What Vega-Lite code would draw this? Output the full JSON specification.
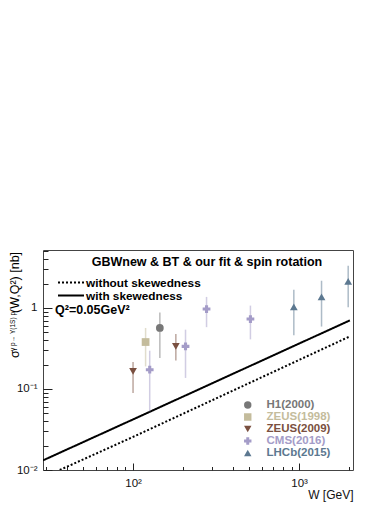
{
  "$schema": "https://vega.github.io/schema/vega-lite/v6.json",
  "autosize": {"type": "none"},
  "width": 310,
  "height": 220,
  "padding": {"left": 43, "top": 250, "right": 37, "bottom": 35},
  "background": "white",
  "config": {
    "font": "Liberation Sans",
    "view": {"stroke": "#444", "strokeWidth": 1},
    "axis": {"domain": false, "grid": false, "tickColor": "#222", "labelColor": "#111", "labelFont": "Liberation Sans", "labelFontSize": 11.5, "titleFont": "Liberation Sans", "titleFontWeight": "normal", "titleColor": "#111"},
    "legend": {"padding": 0, "titlePadding": 0}
  },
  "datasets": {
    "curves": [
      {"model": "without skewedness", "W": 36.2, "sigma": 0.01},
      {"model": "without skewedness", "W": 100, "sigma": 0.0256},
      {"model": "without skewedness", "W": 2020, "sigma": 0.446},
      {"model": "with skewedness", "W": 28.7, "sigma": 0.01315},
      {"model": "with skewedness", "W": 100, "sigma": 0.0421},
      {"model": "with skewedness", "W": 2020, "sigma": 0.703}
    ],
    "meas": [
      {"exp": "H1(2000)", "W": 145, "sigma": 0.567, "lo": 0.241, "hi": 0.88},
      {"exp": "ZEUS(1998)", "W": 119, "sigma": 0.38, "lo": 0.19, "hi": 0.567},
      {"exp": "ZEUS(2009)", "W": 100, "sigma": 0.165, "lo": 0.089, "hi": 0.215},
      {"exp": "ZEUS(2009)", "W": 181, "sigma": 0.336, "lo": 0.225, "hi": 0.478},
      {"exp": "CMS(2016)", "W": 126, "sigma": 0.173, "lo": 0.053, "hi": 0.297},
      {"exp": "CMS(2016)", "W": 207, "sigma": 0.336, "lo": 0.137, "hi": 0.54},
      {"exp": "CMS(2016)", "W": 277, "sigma": 0.97, "lo": 0.58, "hi": 1.37},
      {"exp": "CMS(2016)", "W": 509, "sigma": 0.73, "lo": 0.41, "hi": 1.07},
      {"exp": "LHCb(2015)", "W": 929, "sigma": 1.03, "lo": 0.46, "hi": 1.68},
      {"exp": "LHCb(2015)", "W": 1364, "sigma": 1.37, "lo": 0.59, "hi": 2.17},
      {"exp": "LHCb(2015)", "W": 1974, "sigma": 2.13, "lo": 1.02, "hi": 3.33}
    ]
  },
  "resolve": {"axis": {"x": "independent", "y": "independent"}},
  "layer": [
    {
      "data": {"name": "curves"},
      "mark": {"type": "line", "color": "black", "strokeWidth": 2, "clip": true},
      "encoding": {
        "x": {"field": "W", "type": "quantitative", "scale": {"type": "log", "domain": [28.7, 2110], "nice": false},
          "axis": {"orient": "bottom", "values": [100, 1000], "tickSize": -7, "labelPadding": 14, "labelExpr": "datum.value == 100 ? '10²' : '10³'", "title": "W [GeV]", "titleAnchor": "end", "titleAlign": "right", "titleFontSize": 12, "titlePadding": 1}},
        "y": {"field": "sigma", "type": "quantitative", "scale": {"type": "log", "domain": [0.01, 5.2], "nice": false},
          "axis": {"orient": "left", "values": [0.01, 0.1, 1], "tickSize": -9, "labelPadding": 15, "labelExpr": "datum.value == 0.01 ? '10⁻²' : datum.value == 0.1 ? '10⁻¹' : '1'", "title": null}},
        "strokeDash": {"field": "model", "type": "nominal", "sort": ["without skewedness", "with skewedness"],
          "scale": {"range": [[2, 2], [1, 0]]},
          "legend": {"title": null, "orient": "none", "legendX": 14, "legendY": 27, "symbolType": "stroke", "symbolSize": 676, "symbolStrokeWidth": 2, "symbolStrokeColor": "black", "clipHeight": 11, "rowPadding": -4, "labelOffset": 1, "labelFontSize": 11.8, "labelFontWeight": "bold", "labelColor": "black", "labelFont": "Liberation Sans"}}
      }
    },
    {
      "data": {"name": "meas"},
      "mark": {"type": "rule", "strokeWidth": 1.5, "opacity": 0.5},
      "encoding": {
        "x": {"field": "W", "type": "quantitative", "scale": {"type": "log", "domain": [28.7, 2110], "nice": false},
          "axis": {"orient": "bottom", "values": [30, 40, 50, 60, 70, 80, 90, 200, 300, 400, 500, 600, 700, 800, 900, 2000], "tickSize": -3.5, "labels": false, "title": null}},
        "y": {"field": "lo", "type": "quantitative", "scale": {"type": "log", "domain": [0.01, 5.2], "nice": false},
          "axis": {"orient": "left", "values": [0.02, 0.03, 0.04, 0.05, 0.06, 0.07, 0.08, 0.09, 0.2, 0.3, 0.4, 0.5, 0.6, 0.7, 0.8, 0.9, 2, 3, 4, 5], "tickSize": -5, "labels": false, "title": null}},
        "y2": {"field": "hi"},
        "stroke": {"field": "exp", "type": "nominal", "legend": null, "sort": ["H1(2000)", "ZEUS(1998)", "ZEUS(2009)", "CMS(2016)", "LHCb(2015)"],
          "scale": {"range": ["#777777", "#c4bc9c", "#7a5040", "#a49cc8", "#5c7890"]}}
      }
    },
    {
      "data": {"name": "meas"},
      "mark": {"type": "point", "filled": true, "opacity": 1, "size": 60},
      "encoding": {
        "x": {"field": "W", "type": "quantitative", "scale": {"type": "log", "domain": [28.7, 2110], "nice": false}, "axis": null},
        "y": {"field": "sigma", "type": "quantitative", "scale": {"type": "log", "domain": [0.01, 5.2], "nice": false}, "axis": null},
        "color": {"field": "exp", "type": "nominal", "sort": ["H1(2000)", "ZEUS(1998)", "ZEUS(2009)", "CMS(2016)", "LHCb(2015)"],
          "scale": {"range": ["#777777", "#c4bc9c", "#7a5040", "#a49cc8", "#5c7890"]},
          "legend": {"title": null, "orient": "none", "legendX": 199, "legendY": 149, "rowPadding": 0, "clipHeight": 12, "labelOffset": 13, "labelFontSize": 11.5, "labelFontWeight": "bold", "labelFont": "Liberation Sans", "symbolSize": 55, "symbolOpacity": 1,
            "symbolType": {"expr": "scale('shape', datum.value)"},
            "labelColor": {"expr": "scale('color', datum.value)"}}},
        "shape": {"field": "exp", "type": "nominal", "sort": ["H1(2000)", "ZEUS(1998)", "ZEUS(2009)", "CMS(2016)", "LHCb(2015)"],
          "scale": {"range": ["circle", "square", "triangle-down", "cross", "triangle-up"]},
          "legend": null}
      }
    },
    {
      "data": {"values": [{}]},
      "mark": {"type": "text", "text": "GBWnew & BT & our fit & spin rotation", "font": "Liberation Sans", "fontWeight": "bold", "fontSize": 12.5, "align": "center", "baseline": "middle", "color": "black"},
      "encoding": {
        "x": {"datum": 278.7, "type": "quantitative", "scale": {"type": "log", "domain": [28.7, 2110], "nice": false}, "axis": null},
        "y": {"datum": 3.70, "type": "quantitative", "scale": {"type": "log", "domain": [0.01, 5.2], "nice": false}, "axis": null}
      }
    },
    {
      "data": {"values": [{}]},
      "mark": {"type": "text", "text": "Q²=0.05GeV²", "font": "Liberation Sans", "fontWeight": "bold", "fontSize": 12.5, "align": "left", "baseline": "middle", "color": "black"},
      "encoding": {
        "x": {"datum": 33.9, "type": "quantitative", "scale": {"type": "log", "domain": [28.7, 2110], "nice": false}, "axis": null},
        "y": {"datum": 0.944, "type": "quantitative", "scale": {"type": "log", "domain": [0.01, 5.2], "nice": false}, "axis": null}
      }
    },
    {
      "data": {"values": [{}]},
      "mark": {"type": "text", "text": "σ", "font": "Liberation Sans", "fontSize": 12.5, "angle": 270, "align": "left", "baseline": "alphabetic", "color": "black"},
      "encoding": {
        "x": {"datum": 20.72, "type": "quantitative", "scale": {"type": "log", "domain": [28.7, 2110], "nice": false}, "axis": null},
        "y": {"datum": 0.2414, "type": "quantitative", "scale": {"type": "log", "domain": [0.01, 5.2], "nice": false}, "axis": null}
      }
    },
    {
      "data": {"values": [{}]},
      "mark": {"type": "text", "text": "γ p→ Υ(1S) p", "font": "Liberation Sans", "fontSize": 6.5, "angle": 270, "align": "left", "baseline": "alphabetic", "color": "black"},
      "encoding": {
        "x": {"datum": 19.6, "type": "quantitative", "scale": {"type": "log", "domain": [28.7, 2110], "nice": false}, "axis": null},
        "y": {"datum": 0.2944, "type": "quantitative", "scale": {"type": "log", "domain": [0.01, 5.2], "nice": false}, "axis": null}
      }
    },
    {
      "data": {"values": [{}]},
      "mark": {"type": "text", "text": "(W,Q²) [nb]", "font": "Liberation Sans", "fontSize": 12.5, "angle": 270, "align": "left", "baseline": "alphabetic", "color": "black"},
      "encoding": {
        "x": {"datum": 20.72, "type": "quantitative", "scale": {"type": "log", "domain": [28.7, 2110], "nice": false}, "axis": null},
        "y": {"datum": 0.867, "type": "quantitative", "scale": {"type": "log", "domain": [0.01, 5.2], "nice": false}, "axis": null}
      }
    }
  ]
}
